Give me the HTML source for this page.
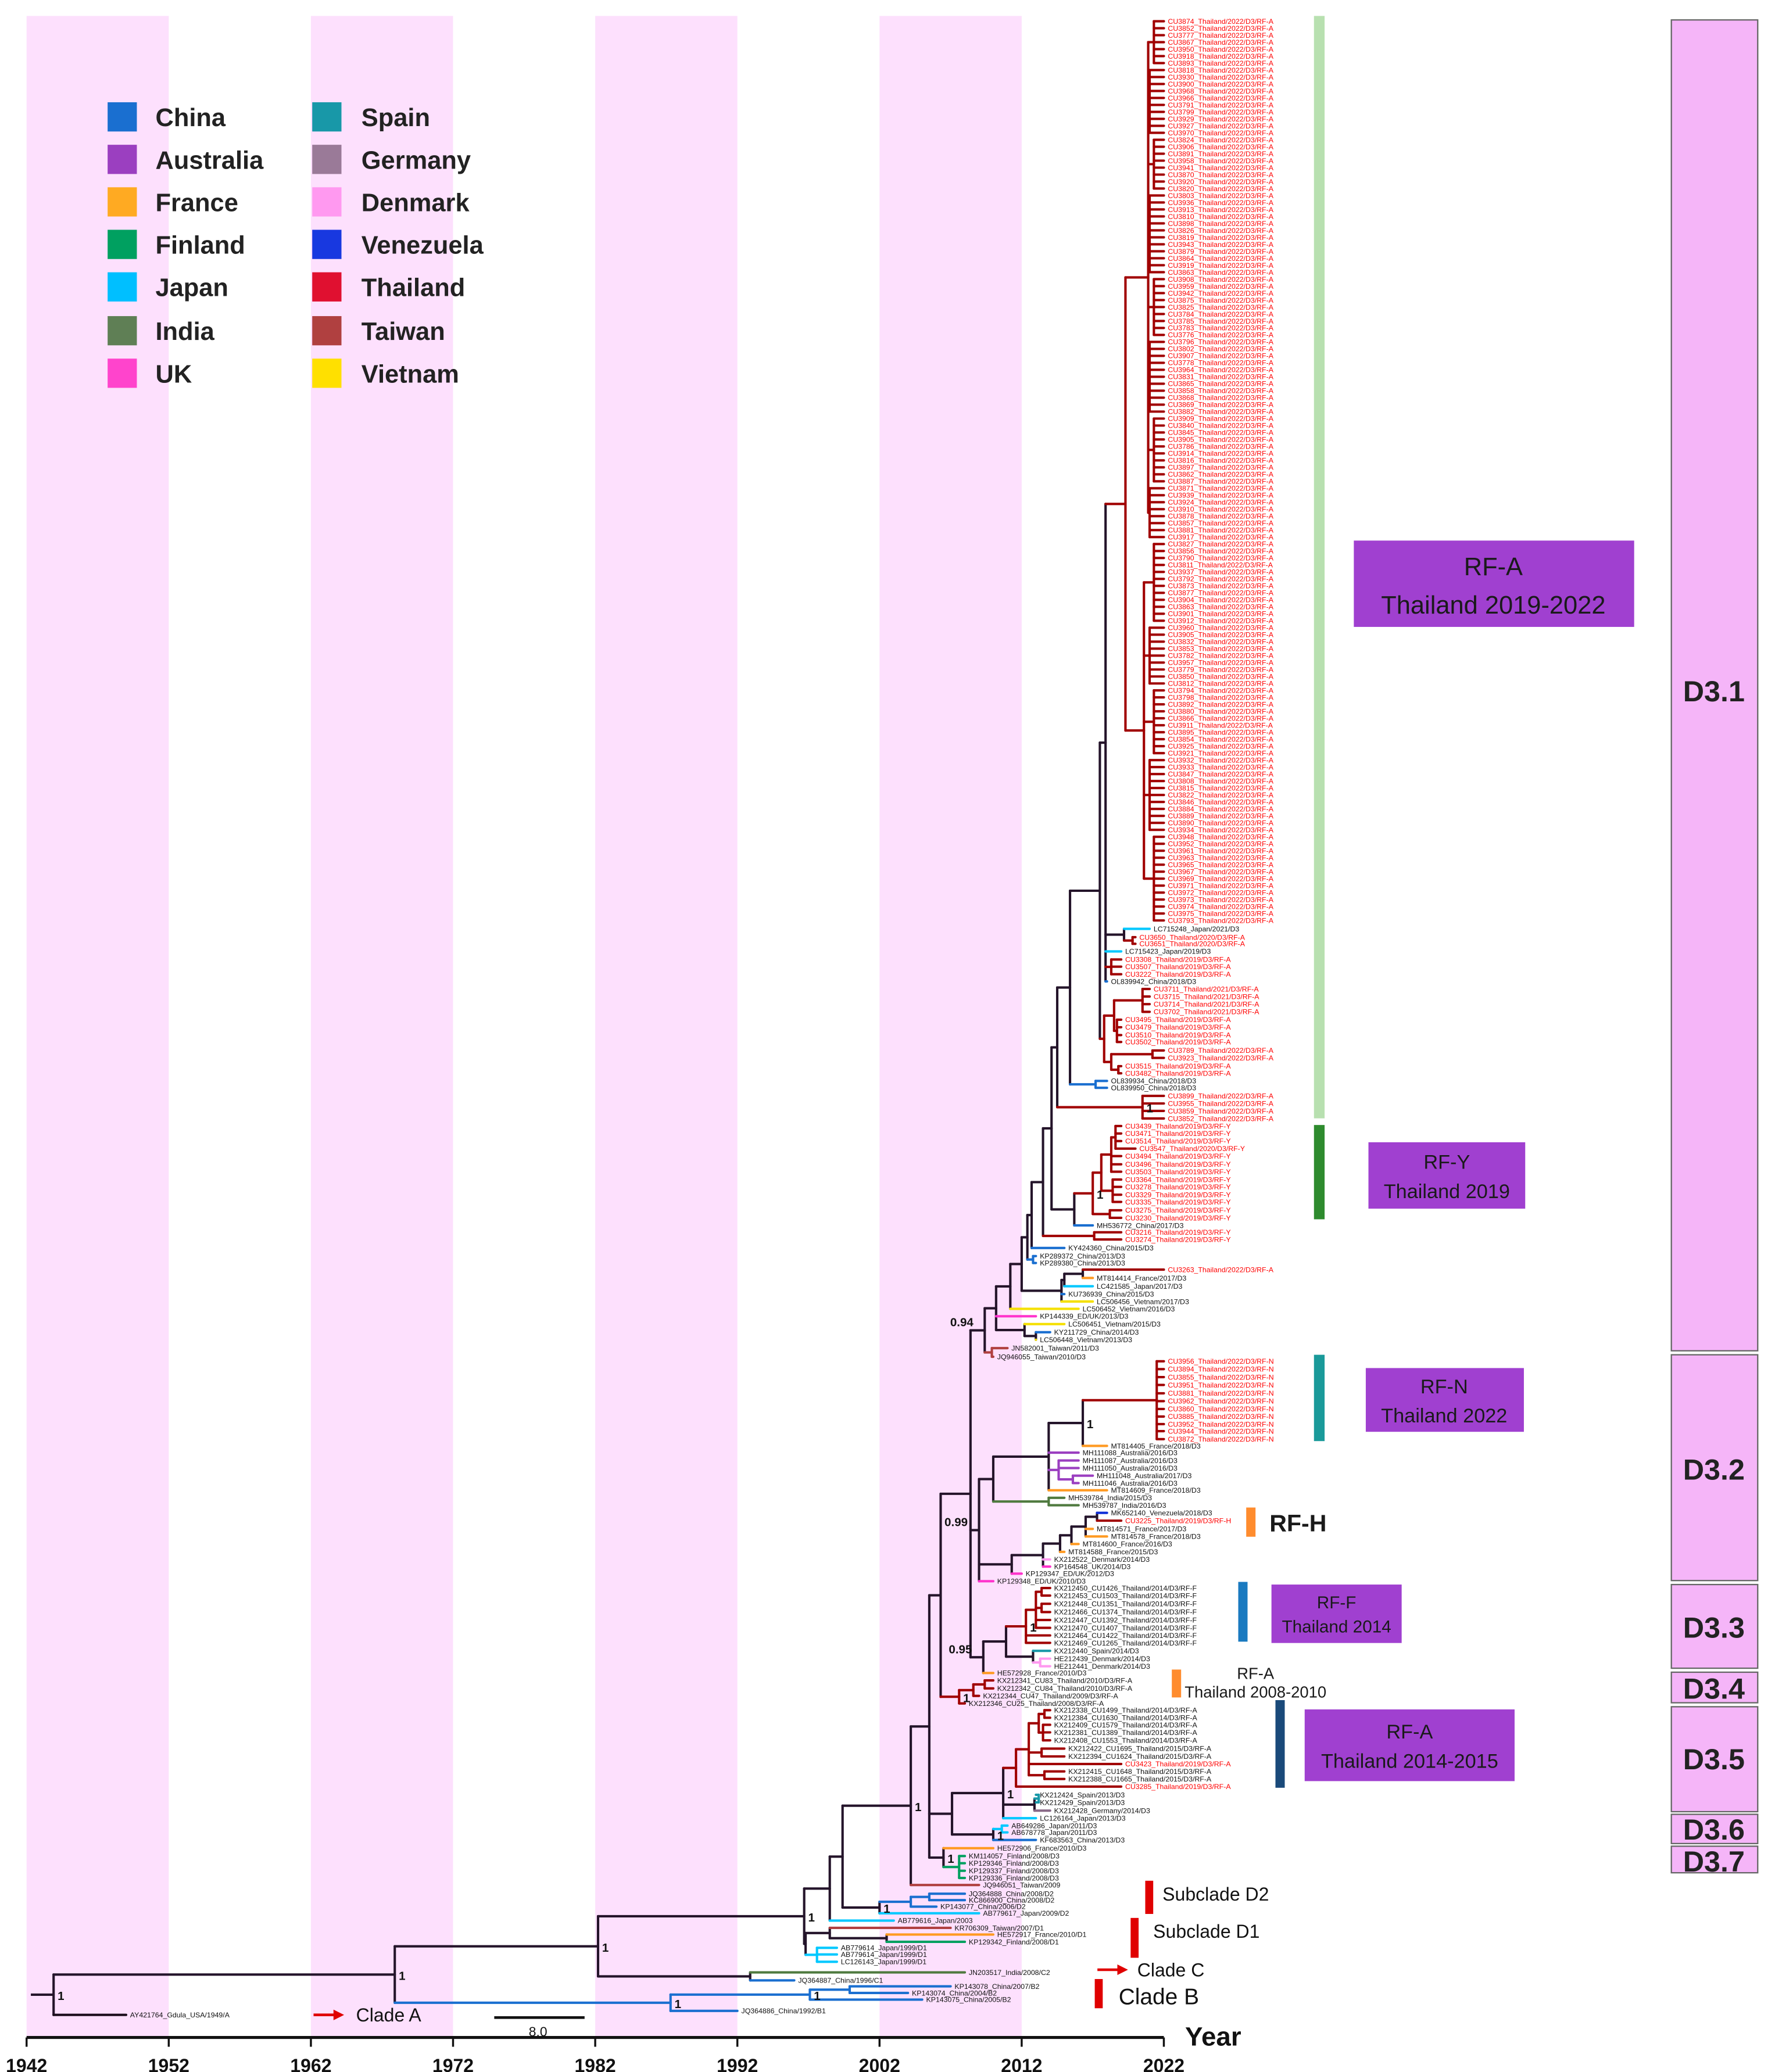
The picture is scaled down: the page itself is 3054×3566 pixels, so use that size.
<!DOCTYPE html>
<html><head><meta charset="utf-8"><style>
html,body{margin:0;padding:0;background:#fff}
svg{display:block}
text{font-family:"Liberation Sans",sans-serif}
</style></head><body>
<svg id="chart" xmlns="http://www.w3.org/2000/svg" width="3054" height="3566" viewBox="0 0 1336 1560">
<g id="bands"></g>
<g id="tree"></g>
<g id="axis"></g>
<g font-weight="bold" font-size="19" fill="#222">
<rect x="81" y="77" width="22" height="22" fill="#1a6fd0"/><text x="117" y="95">China</text>
<rect x="81" y="109" width="22" height="22" fill="#9b3fc0"/><text x="117" y="127">Australia</text>
<rect x="81" y="141" width="22" height="22" fill="#ffaa22"/><text x="117" y="159">France</text>
<rect x="81" y="173" width="22" height="22" fill="#00a060"/><text x="117" y="191">Finland</text>
<rect x="81" y="205" width="22" height="22" fill="#00bfff"/><text x="117" y="223">Japan</text>
<rect x="81" y="238" width="22" height="22" fill="#5f7f55"/><text x="117" y="256">India</text>
<rect x="81" y="270" width="22" height="22" fill="#ff44cc"/><text x="117" y="288">UK</text>
<rect x="235" y="77" width="22" height="22" fill="#1898a8"/><text x="272" y="95">Spain</text>
<rect x="235" y="109" width="22" height="22" fill="#9a7a98"/><text x="272" y="127">Germany</text>
<rect x="235" y="141" width="22" height="22" fill="#ff99f0"/><text x="272" y="159">Denmark</text>
<rect x="235" y="173" width="22" height="22" fill="#1838e0"/><text x="272" y="191">Venezuela</text>
<rect x="235" y="205" width="22" height="22" fill="#e01030"/><text x="272" y="223">Thailand</text>
<rect x="235" y="238" width="22" height="22" fill="#b04040"/><text x="272" y="256">Taiwan</text>
<rect x="235" y="270" width="22" height="22" fill="#ffe000"/><text x="272" y="288">Vietnam</text>
</g>
<g>
<rect x="989" y="12" width="8" height="830" fill="#b8e0b0"/>
<rect x="989" y="847" width="8" height="71" fill="#2e8b2e"/>
<rect x="989" y="1020" width="8" height="65" fill="#1a9a9a"/>
<rect x="938" y="1135" width="7" height="22" fill="#ff8c2e"/>
<rect x="932" y="1191" width="7" height="45" fill="#1a7ac0"/>
<rect x="882" y="1257" width="7" height="21" fill="#ff8c2e"/>
<rect x="960" y="1280" width="7" height="66" fill="#1a4a7a"/>
<rect x="862" y="1416" width="6" height="25" fill="#e00000"/>
<rect x="851" y="1444" width="6" height="30" fill="#e00000"/>
<rect x="824" y="1490" width="6" height="22" fill="#e00000"/>
</g>
<g fill="#1a1a1a" text-anchor="middle">
<rect x="1019" y="407" width="211" height="65" fill="#a040d0"/>
<text x="1124" y="433" font-size="19">RF-A</text>
<text x="1124" y="462" font-size="19">Thailand 2019-2022</text>
<rect x="1030" y="860" width="118" height="50" fill="#a040d0"/>
<text x="1089" y="880" font-size="15">RF-Y</text>
<text x="1089" y="902" font-size="15">Thailand 2019</text>
<rect x="1028" y="1030" width="119" height="48" fill="#a040d0"/>
<text x="1087" y="1049" font-size="15">RF-N</text>
<text x="1087" y="1071" font-size="15">Thailand 2022</text>
<rect x="957" y="1193" width="98" height="44" fill="#a040d0"/>
<text x="1006" y="1211" font-size="13">RF-F</text>
<text x="1006" y="1229" font-size="13">Thailand 2014</text>
<rect x="982" y="1287" width="158" height="54" fill="#a040d0"/>
<text x="1061" y="1309" font-size="15">RF-A</text>
<text x="1061" y="1331" font-size="15">Thailand 2014-2015</text>
<text x="977" y="1153" font-size="18" font-weight="bold">RF-H</text>
<text x="945" y="1264" font-size="12">RF-A</text>
<text x="945" y="1278" font-size="12">Thailand 2008-2010</text>
</g>
<g fill="#111" font-size="14">
<text x="875" y="1431">Subclade D2</text>
<text x="868" y="1459">Subclade D1</text>
<line x1="826" y1="1483" x2="843" y2="1483" stroke="#e00000" stroke-width="2"/>
<polygon points="841,1479 849,1483 841,1487" fill="#e00000"/>
<text x="856" y="1488">Clade C</text>
<text x="842" y="1509" font-size="17">Clade B</text>
<line x1="236" y1="1517" x2="253" y2="1517" stroke="#e00000" stroke-width="2"/>
<polygon points="251,1513 259,1517 251,1521" fill="#e00000"/>
<text x="268" y="1522">Clade A</text>
<line x1="372" y1="1519" x2="440" y2="1519" stroke="#111" stroke-width="2"/>
<text x="398" y="1533" font-size="10">8.0</text>
<text x="892" y="1540" font-size="20" font-weight="bold">Year</text>
</g>
<g font-weight="bold" font-size="22" text-anchor="middle" fill="#222">
<rect x="1258" y="15" width="65" height="1002" fill="#f5b5f8" stroke="#666" stroke-width="1"/><text x="1290" y="528">D3.1</text>
<rect x="1258" y="1020" width="65" height="170" fill="#f5b5f8" stroke="#666" stroke-width="1"/><text x="1290" y="1114">D3.2</text>
<rect x="1258" y="1193" width="65" height="63" fill="#f5b5f8" stroke="#666" stroke-width="1"/><text x="1290" y="1233">D3.3</text>
<rect x="1258" y="1259" width="65" height="23" fill="#f5b5f8" stroke="#666" stroke-width="1"/><text x="1290" y="1279">D3.4</text>
<rect x="1258" y="1285" width="65" height="79" fill="#f5b5f8" stroke="#666" stroke-width="1"/><text x="1290" y="1332">D3.5</text>
<rect x="1258" y="1366" width="65" height="22" fill="#f5b5f8" stroke="#666" stroke-width="1"/><text x="1290" y="1385">D3.6</text>
<rect x="1258" y="1390" width="65" height="20" fill="#f5b5f8" stroke="#666" stroke-width="1"/><text x="1290" y="1409">D3.7</text>
</g>
</svg>
<script>
// ---- data ----
const tickYears = [1942,1952,1962,1972,1982,1992,2002,2012,2022];
const bandStarts = [1942,1962,1982,2002];
const bigIds = [3874,3852,3777,3867,3950,3918,3893,3818,3930,3900,3968,3966,3791,3799,3929,3927,3970,3824,3906,3891,3958,3941,3870,3920,3820,3803,3936,3913,3810,3898,3826,3819,3943,3879,3864,3919,3863,3908,3959,3942,3875,3825,3784,3785,3783,3776,3796,3802,3907,3778,3964,3831,3865,3858,3868,3869,3882,3909,3840,3845,3905,3786,3914,3816,3897,3862,3887,3871,3939,3924,3910,3878,3857,3881,3917,3827,3856,3790,3811,3937,3792,3873,3877,3904,3863,3901,3912,3960,3905,3832,3853,3782,3957,3779,3850,3812,3794,3798,3892,3880,3866,3911,3895,3854,3925,3921,3932,3933,3847,3808,3815,3822,3846,3884,3889,3890,3934,3948,3952,3961,3963,3965,3967,3969,3971,3972,3973,3974,3975,3793];
const bigGroupSizes = [7,10,8,12,9,11,10,8,12,9,10,11,13];
const rfnIds = [3956,3894,3855,3951,3881,3962,3860,3885,3952,3944,3872];
const rfnY = [1024.9,1030.8,1036.8,1042.7,1049,1054.9,1060.8,1066.5,1072.2,1077.5,1083.5];
const countryColor = {China:'#1a6fd0',Australia:'#9b3fc0',France:'#ff9a22',Finland:'#00a060',Japan:'#00c8ff',India:'#4f7a3f',UK:'#ff33cc',Spain:'#1898a8',Germany:'#8a6a88',Denmark:'#ff99f0',Venezuela:'#1030d8',Thailand:'#a00000',Taiwan:'#b04040',Vietnam:'#f5e000',USA:'#1b0d1b'};

function T(name,y){return {name:name,y:y};}
function N(yr,kids,lab){return {yr:yr,kids:kids,lab:lab};}

const bigTips = bigIds.map((id,i)=>T('CU'+id+'_Thailand/2022/D3/RF-A',16+i*(677/(bigIds.length-1))));
const bigGroups=[]; let k=0;
bigGroupSizes.forEach((s,gi)=>{ const g=bigTips.slice(k,gi===bigGroupSizes.length-1?bigTips.length:k+s); k+=s; if(g.length) bigGroups.push(N(gi%2?2021.0:2021.3,g)); });
const BigRFA = N(2019.3,[N(2020.9,bigGroups.slice(0,8)),N(2020.6,bigGroups.slice(8))]);

const L11 = N(2017.9,[BigRFA,
  N(2019.2,[T('LC715248_Japan/2021/D3',699.3),N(2019.8,[T('CU3650_Thailand/2020/D3/RF-A',705.6),T('CU3651_Thailand/2020/D3/RF-A',710.6)])]),
  T('LC715423_Japan/2019/D3',716.3),
  N(2018.3,[T('CU3308_Thailand/2019/D3/RF-A',722.4),T('CU3507_Thailand/2019/D3/RF-A',727.8),T('CU3222_Thailand/2019/D3/RF-A',733.5)]),
  T('OL839942_China/2018/D3',738.9)]);
const L10 = N(2017.5,[L11,N(2017.8,[
  N(2018.5,[N(2020.5,[T('CU3711_Thailand/2021/D3/RF-A',744.6),T('CU3715_Thailand/2021/D3/RF-A',750.3),T('CU3714_Thailand/2021/D3/RF-A',756),T('CU3702_Thailand/2021/D3/RF-A',761.8)]),
            N(2018.7,[T('CU3495_Thailand/2019/D3/RF-A',767.7),T('CU3479_Thailand/2019/D3/RF-A',773.4),T('CU3510_Thailand/2019/D3/RF-A',779.3),T('CU3502_Thailand/2019/D3/RF-A',784.5)])]),
  N(2018.3,[N(2021.2,[T('CU3789_Thailand/2022/D3/RF-A',790.9),T('CU3923_Thailand/2022/D3/RF-A',796.5)]),
            N(2018.8,[T('CU3515_Thailand/2019/D3/RF-A',802.7),T('CU3482_Thailand/2019/D3/RF-A',808.1)])])])]);
const L9 = N(2015.4,[L10,N(2017.2,[T('OL839934_China/2018/D3',813.8),T('OL839950_China/2018/D3',819)])]);
const L8 = N(2014.5,[L9,N(2020.5,[T('CU3899_Thailand/2022/D3/RF-A',825.1),T('CU3955_Thailand/2022/D3/RF-A',830.8),T('CU3859_Thailand/2022/D3/RF-A',836.4),T('CU3852_Thailand/2022/D3/RF-A',842.1)],'1')]);
const RFY = N(2017.0,[N(2017.6,[N(2018.3,[N(2018.6,[T('CU3439_Thailand/2019/D3/RF-Y',847.8),T('CU3471_Thailand/2019/D3/RF-Y',853.4),T('CU3514_Thailand/2019/D3/RF-Y',859.1),T('CU3547_Thailand/2020/D3/RF-Y',864.8)]),
  T('CU3494_Thailand/2019/D3/RF-Y',870.4),T('CU3496_Thailand/2019/D3/RF-Y',876.6),T('CU3503_Thailand/2019/D3/RF-Y',882.2)]),
  N(2018.4,[T('CU3364_Thailand/2019/D3/RF-Y',888.1),T('CU3278_Thailand/2019/D3/RF-Y',893.6),T('CU3329_Thailand/2019/D3/RF-Y',899.5),T('CU3335_Thailand/2019/D3/RF-Y',904.9)])]),
  N(2018.2,[T('CU3275_Thailand/2019/D3/RF-Y',911.2),T('CU3230_Thailand/2019/D3/RF-Y',916.9)])],'1');
const L7 = N(2014.1,[L8,N(2015.7,[RFY,T('MH536772_China/2017/D3',922.6)])]);
const L6 = N(2013.5,[L7,N(2017.1,[T('CU3216_Thailand/2019/D3/RF-Y',927.8),T('CU3274_Thailand/2019/D3/RF-Y',933.2)])]);
const L5 = N(2012.7,[L6,T('KY424360_China/2015/D3',939.6)]);
const L4 = N(2012.4,[L5,N(2012.8,[T('KP289372_China/2013/D3',945.7),T('KP289380_China/2013/D3',950.9)])]);
const L3 = N(2012.0,[L4,N(2014.8,[N(2015.0,[N(2016.3,[T('CU3263_Thailand/2022/D3/RF-A',955.9),T('MT814414_France/2017/D3',962.2)]),T('LC421585_Japan/2017/D3',968.4)]),T('KU736939_China/2015/D3',974.3),T('LC506456_Vietnam/2017/D3',979.9)])]);
const L2 = N(2011.2,[L3,T('LC506452_Vietnam/2016/D3',985.4)]);
const L1 = N(2010.2,[L2,T('KP144339_ED/UK/2013/D3',991),N(2012.2,[T('LC506451_Vietnam/2015/D3',996.9),N(2013.0,[T('KY211729_China/2014/D3',1003),T('LC506448_Vietnam/2013/D3',1008.7)])])]);
const N094 = N(2009.4,[L1,N(2009.9,[T('JN582001_Taiwan/2011/D3',1015),T('JQ946055_Taiwan/2010/D3',1021.5)])],'0.94');

const RFN = N(2021.5, rfnIds.map((id,i)=>T('CU'+id+'_Thailand/2022/D3/RF-N',rfnY[i])));
const Naus = N(2010.0,[
  N(2013.9,[N(2016.3,[RFN,T('MT814405_France/2018/D3',1088.6)],'1'),T('MH111088_Australia/2016/D3',1093.7),
    N(2014.6,[T('MH111087_Australia/2016/D3',1099.6),T('MH111050_Australia/2016/D3',1105.3),N(2015.6,[T('MH111048_Australia/2017/D3',1111),T('MH111046_Australia/2016/D3',1116.6)])]),
    T('MT814609_France/2018/D3',1122)]),
  N(2013.9,[T('MH539784_India/2015/D3',1127.7),T('MH539787_India/2016/D3',1133.3)])]);
const Nrfh = N(2011.3,[N(2013.5,[N(2014.7,[N(2015.5,[N(2016.5,[N(2017.3,[T('MK652140_Venezuela/2018/D3',1139),T('CU3225_Thailand/2019/D3/RF-H',1144.9)]),
  T('MT814571_France/2017/D3',1151.1),T('MT814578_France/2018/D3',1156.8)]),T('MT814600_France/2016/D3',1162.5)]),T('MT814588_France/2015/D3',1168.4)]),
  T('KX212522_Denmark/2014/D3',1174.1),T('KP164548_UK/2014/D3',1179.5)]),T('KP129347_ED/UK/2012/D3',1184.8)]);
const N099 = N(2009.0,[Naus,Nrfh,T('KP129348_ED/UK/2010/D3',1190.5)],'0.99');
const RFF = N(2012.3,[N(2013.0,[N(2013.4,[T('KX212450_CU1426_Thailand/2014/D3/RF-F',1195.6),T('KX212453_CU1503_Thailand/2014/D3/RF-F',1201.3)]),
  N(2013.4,[T('KX212448_CU1351_Thailand/2014/D3/RF-F',1207.5),T('KX212466_CU1374_Thailand/2014/D3/RF-F',1213.7)]),
  T('KX212447_CU1392_Thailand/2014/D3/RF-F',1219.7),T('KX212470_CU1407_Thailand/2014/D3/RF-F',1225.6)]),
  T('KX212464_CU1422_Thailand/2014/D3/RF-F',1231.3),T('KX212469_CU1265_Thailand/2014/D3/RF-F',1236.9)],'1');
const N095 = N(2009.3,[N(2010.9,[RFF,N(2012.8,[T('KX212440_Spain/2014/D3',1242.9),N(2013.3,[T('HE212439_Denmark/2014/D3',1248.8),T('HE212441_Denmark/2014/D3',1254.5)])])]),T('HE572928_France/2010/D3',1259.6)],'0.95');
const Nf = N(2008.4,[N094,N099,N095]);
const Nrfa08 = N(2007.6,[N(2008.6,[N(2009.4,[T('KX212341_CU83_Thailand/2010/D3/RF-A',1265.2),T('KX212342_CU84_Thailand/2010/D3/RF-A',1271.2)]),T('KX212344_CU47_Thailand/2009/D3/RF-A',1276.8)]),T('KX212346_CU25_Thailand/2008/D3/RF-A',1282.5)],'1');
const Nd = N(2006.3,[Nf,Nrfa08]);
const RFA14 = N(2011.6,[N(2012.5,[N(2013.2,[N(2013.6,[T('KX212338_CU1499_Thailand/2014/D3/RF-A',1287.6),T('KX212384_CU1630_Thailand/2014/D3/RF-A',1293.3)]),
  N(2013.5,[T('KX212409_CU1579_Thailand/2014/D3/RF-A',1298.6),T('KX212381_CU1389_Thailand/2014/D3/RF-A',1304.3),T('KX212408_CU1553_Thailand/2014/D3/RF-A',1310.3)])]),
  N(2013.4,[T('KX212422_CU1695_Thailand/2015/D3/RF-A',1316.5),T('KX212394_CU1624_Thailand/2015/D3/RF-A',1322.4)]),
  T('CU3423_Thailand/2019/D3/RF-A',1328.1),
  N(2013.6,[T('KX212415_CU1648_Thailand/2015/D3/RF-A',1333.7),T('KX212388_CU1665_Thailand/2015/D3/RF-A',1339.4)])]),
  T('CU3285_Thailand/2019/D3/RF-A',1345.1)]);
const Njp = N(2007.1,[N(2010.7,[RFA14,N(2012.9,[N(2013.2,[T('KX212424_Spain/2013/D3',1351.3),T('KX212429_Spain/2013/D3',1357)]),T('KX212428_Germany/2014/D3',1363.2)]),T('LC126164_Japan/2013/D3',1368.9)],'1'),
  N(2010.0,[N(2010.6,[T('AB649286_Japan/2011/D3',1374.5),T('AB678778_Japan/2011/D3',1379.6)]),T('KF683563_China/2013/D3',1385.3)],'1')]);
const Nfin = N(2006.5,[T('HE572906_France/2010/D3',1391.5),N(2007.6,[T('KM114057_Finland/2008/D3',1397.4),T('KP129346_Finland/2008/D3',1402.8),T('KP129337_Finland/2008/D3',1408.5),T('KP129336_Finland/2008/D3',1413.9)])],'1');
const Nc = N(2005.5,[Nd,Njp,Nfin]);
const Nb = N(2004.2,[Nc,T('JQ946051_Taiwan/2009',1419.2)],'1');
const D2 = N(2002.0,[N(2004.2,[N(2005.5,[T('JQ364888_China/2008/D2',1425.8),T('KC866900_China/2008/D2',1430.6)]),T('KP143077_China/2006/D2',1435.5)]),T('AB779617_Japan/2009/D2',1440.5)],'1');
const X1 = N(1998.5,[N(1999.4,[Nb,D2]),T('AB779616_Japan/2003',1446)]);
const D1 = N(1996.8,[N(1998.5,[T('KR706309_Taiwan/2007/D1',1451.5),N(2002.5,[T('HE572917_France/2010/D1',1456.5),T('KP129342_Finland/2008/D1',1462)])]),
  N(1997.6,[T('AB779614_Japan/1999/D1',1466.5),T('AB779614_Japan/1999/D1',1471.5),T('LC126143_Japan/1999/D1',1477)])]);
const tree = N(1943.9,[
  N(1967.9,[
    N(1982.2,[N(1996.7,[X1,D1],'1'),N(1992.9,[T('JN203517_India/2008/C2',1485),T('JQ364887_China/1996/C1',1491)])],'1'),
    N(1987.3,[N(1997.1,[N(1999.9,[T('KP143078_China/2007/B2',1495.5),T('KP143074_China/2004/B2',1500.5)]),T('KP143075_China/2005/B2',1505.5)],'1'),T('JQ364886_China/1992/B1',1514)],'1')
  ],'1'),
  T('AY421764_Gdula_USA/1949/A',1517)],'1');

// ---- rendering ----
const SVGNS='http://www.w3.org/2000/svg';
const X = yr => 20 + (yr-1942)*10.7;
function el(tag,attrs,parent){const e=document.createElementNS(SVGNS,tag);for(const a in attrs)e.setAttribute(a,attrs[a]);parent.appendChild(e);return e;}

const bands=document.getElementById('bands');
bandStarts.forEach(b=>{
  const r=el('rect',{x:X(b),y:12,width:X(b+10)-X(b),height:1522,fill:'#fde0fd'},bands);
  
  
});

const axis=document.getElementById('axis');
const al=el('line',{x1:X(1942),y1:1534,x2:X(2022),y2:1534,stroke:'#111','stroke-width':2.2},axis);


tickYears.forEach(t=>{
  const tl=el('line',{x1:X(t),y1:1534,x2:X(t),y2:1541,stroke:'#111','stroke-width':1.5},axis);
  
  
  const tx=el('text',{x:X(t),y:1560,'text-anchor':'middle','font-size':14,'font-weight':'bold',fill:'#111'},axis);
  tx.textContent=t;
  
  
});

function parseTip(t){const p=t.name.split('/');let yi=p.findIndex(s=>/^\d{4}$/.test(s));t.year=+p[yi];t.country=p[yi-1].split('_').pop();}
function prep(n){
  if(n.name){parseTip(n);n.set=new Set([n.country]);n.color=countryColor[n.country]||'#1b0d1b';return;}
  n.kids.forEach(prep);
  n.set=new Set();n.kids.forEach(c=>c.set.forEach(v=>n.set.add(v)));
  n.y=(n.kids[0].y+n.kids[n.kids.length-1].y)/2;
  n.color=n.set.size===1?(countryColor[[...n.set][0]]||'#1b0d1b'):'#24142a';
}
prep(tree);
const g=document.getElementById('tree');
const tipLayer=el('g',{},g);


function draw(n){
  if(n.name)return;
  const x=X(n.yr);
  const v=el('line',{x1:x,y1:n.kids[0].y,x2:x,y2:n.kids[n.kids.length-1].y,stroke:n.color,'stroke-width':1.8,'stroke-linecap':'round'},g);
  
  
  n.kids.forEach(c=>{
    const cx=c.name?X(c.year):X(c.yr);
    const h=el('line',{x1:x,y1:c.y,x2:cx,y2:c.y,stroke:c.color,'stroke-width':1.8,'stroke-linecap':'round'},g);
    
    
    if(c.name){
      const t=el('text',{x:cx+3,y:c.y+1.9,'font-size':5.4,fill:c.name.startsWith('CU')?'#ff0000':'#111'},tipLayer);
      t.textContent=c.name;
      
      
    }
    draw(c);
  });
  if(n.lab){
    const t=el('text',{x:x+(n.lab.length>1?-26:3),y:n.y+(n.lab.length>1?-3:4),'font-size':9,'font-weight':'bold',fill:'#111'},g);
    t.textContent=n.lab;
    
    
  }
}
const root=el('line',{x1:X(1942.3),y1:tree.y,x2:X(tree.yr),y2:tree.y,stroke:'#24142a','stroke-width':1.8},g);


draw(tree);
</script>
</body></html>
